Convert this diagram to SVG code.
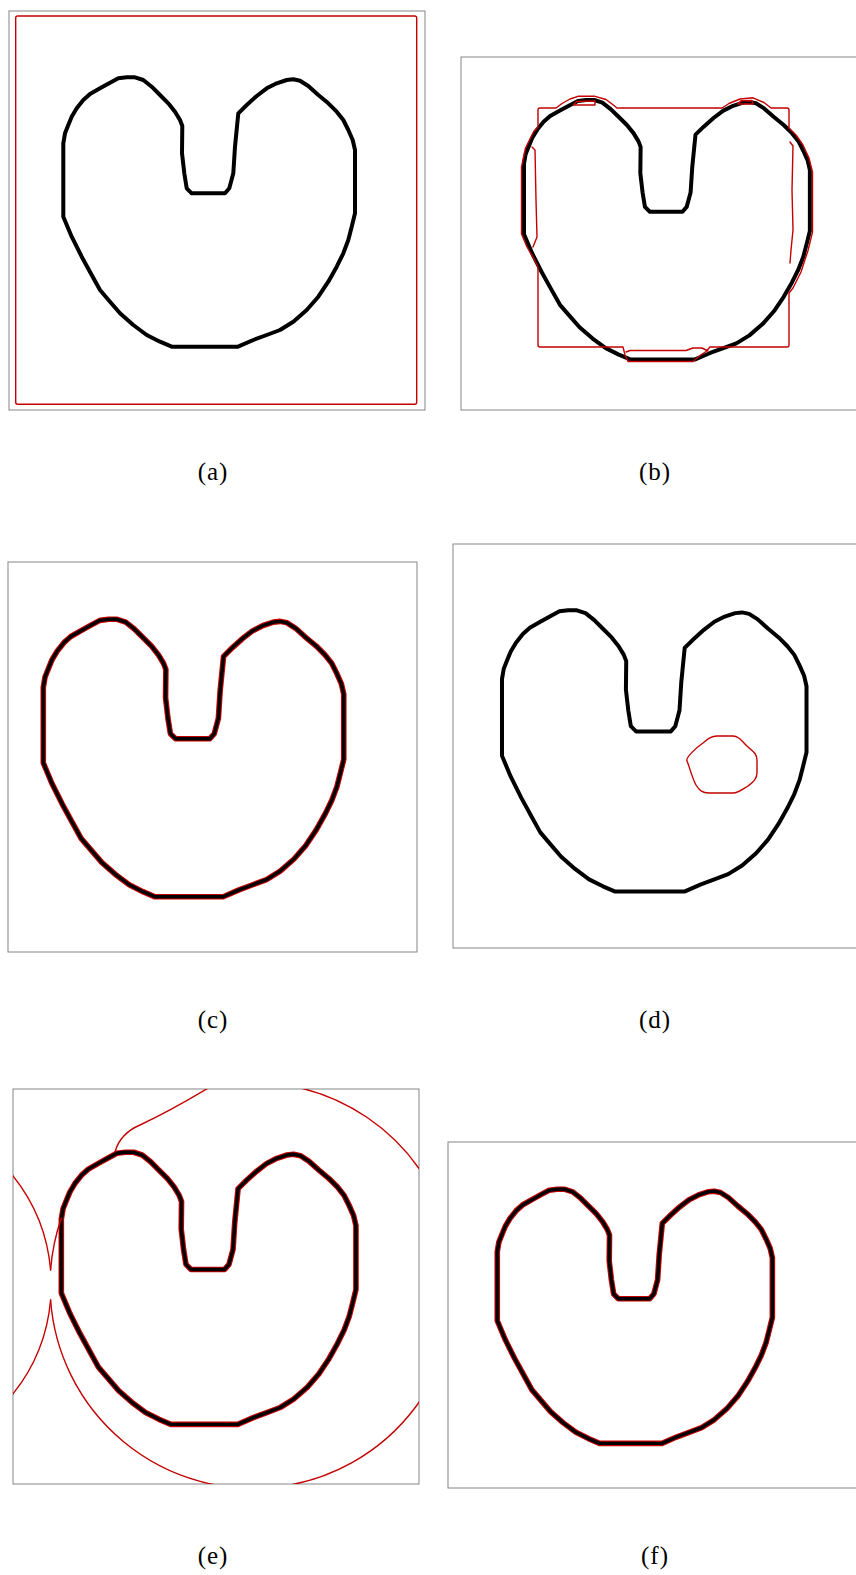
<svg xmlns="http://www.w3.org/2000/svg" xmlns:xlink="http://www.w3.org/1999/xlink" width="856" height="1575" viewBox="0 0 856 1575">
<style>
.frame{fill:none;stroke:#858585;stroke-width:1}
.blk{fill:none;stroke:#000;stroke-width:4;stroke-linejoin:round}
.blkin{fill:none;stroke:#000;stroke-width:3.4;stroke-linejoin:round}
.redw{fill:none;stroke:#c40000;stroke-width:5.6;stroke-linejoin:round}
.red{fill:none;stroke:#c40000;stroke-width:1.4;stroke-linejoin:round;stroke-linecap:round}
.lbl{font-family:"Liberation Serif","DejaVu Serif",serif;font-size:25px;fill:#000;text-anchor:middle;letter-spacing:1px}
</style>
<defs>
<path id="heart" vector-effect="non-scaling-stroke" d="M118.3,78.3 L126.7,77.3 L135,77.3 L143.3,80 L151.7,86.7 L160,95 L168.3,103.3 L175,111.7 L180,120 L182.3,126 L182,153.3 L184.3,173.3 L186.7,188.3 L191.7,193.3 L225,193.3 L229.3,188.3 L233.3,173.3 L235,146.7 L238.3,113.3 L246.7,105 L256.7,96 L266.7,88.3 L276.7,83.3 L286.7,80 L293.3,79.3 L300,80.7 L308.3,86 L318.3,95 L328.3,103.3 L336.7,111.7 L343.3,120 L348.3,130 L352.7,140 L355,150 L355,213.3 L351.7,226.7 L348.3,240 L343.3,253.3 L336.7,266.7 L328.3,281.7 L318.3,296.7 L306.7,310 L293.3,321.7 L280,330 L266.7,335 L253.3,340 L238,346.7 L171.7,346.7 L160,341.7 L146.7,335 L133.3,325 L120,313.3 L110,301.7 L100,290 L91.7,275 L81.7,256.7 L71.7,236.7 L63.3,216.7 L63.3,143.3 L65,133.3 L68.3,125 L71.7,116.7 L76.7,108.3 L83.3,100 L90,94 L100,88.3 L110,82.7 Z"/>
<clipPath id="clipE"><rect x="13" y="1089" width="406" height="395"/></clipPath>
</defs>

<g id="panel-a">
<rect class="frame" x="9" y="11" width="416" height="399"/>
<use href="#heart" class="blk"/>
<rect class="red" x="15.7" y="16" width="401" height="388.3" rx="2"/>
<text class="lbl" x="213" y="480">(a)</text>
</g>

<g id="panel-b">
<rect class="frame" x="461" y="57" width="420" height="353"/>
<use href="#heart" class="blk" transform="translate(461.97,25.56) scale(0.98,0.963)"/>
<path class="red" d="M540,108 L556,108 L562,103.5 L570,99 L578,96.3 L595,96.3 L606,99.5 L614,105.5 L617,108 L722,108 L729,103.5 L740,99 L753,97.8 L764,102.5 L771,108 L787,108 Q789,108 789,110 L789,128 L796,135 L803,145 L809,158 L812.5,172 L812.5,232 L808,250.5 L801,272 L793,288 L789,293 L789,345 Q789,347 787,347 L710,347 L706,351.5 L700,355.5 L693,361.5 L628,361.5 L625,355 L623,347 L540,347 Q538,347 538,345 L538,267 L533.5,258 L527,247 L521.5,234 L521.5,167 L525.5,148 L534,131 L538,127 L538,110 Q538,108 540,108 Z"/>
<path class="red" d="M532,147 L535,150 L536,200 L537,237 L533,247"/>
<path class="red" d="M790,142 L793,146 L792,190 L793,230 L791,250 L790,263"/>
<path class="red" d="M573.3,105 L576.7,101.5 L595,101 L595,105 Z"/>
<path class="red" d="M738,104 L741,100.8 L752,100.5 L753,104 Z"/>
<path class="red" d="M626,352 L630,350.5 L686,350.5 L693,348 L702,348 L708,351"/>
<text class="lbl" x="655" y="480">(b)</text>
</g>

<g id="panel-c">
<rect class="frame" x="8" y="562" width="409" height="390"/>
<use href="#heart" class="redw" transform="translate(-21.9,539.7) scale(1.03)"/>
<use href="#heart" class="blkin" transform="translate(-21.9,539.7) scale(1.03)"/>
<text class="lbl" x="213" y="1028">(c)</text>
</g>

<g id="panel-d">
<rect class="frame" x="453" y="544" width="420" height="404"/>
<use href="#heart" class="blk" transform="translate(435.9,529.6) scale(1.044)"/>
<path class="red" d="M687,761 C685,758 697,747 703,743 C708,739 711,736 717,736 L733,736 C738,736 741,740 747,746 C752,751 757,753 757,760 L757,773 C757,779 753,782 748,786 C743,789 738,793 733,793 L709,793 C702,793 699,790 696,785 C692,778 689,765 687,761 Z"/>
<text class="lbl" x="655" y="1028">(d)</text>
</g>

<g id="panel-e">
<rect class="frame" x="13" y="1089" width="406" height="395"/>
<use href="#heart" class="redw" transform="translate(-2.6,1074.2) scale(1.01)"/>
<use href="#heart" class="blkin" transform="translate(-2.6,1074.2) scale(1.01)"/>
<g clip-path="url(#clipE)">
<path class="red" d="M115,1152 C118,1141 126,1131 140,1125 C155,1118 185,1102 210,1087 A203,203 0 1 1 50.6,1300"/>
<path class="red" d="M50.6,1270 A203,203 0 0 1 61.4,1218"/>
<path class="red" d="M5,1160 L13,1176 A174.4,174.4 0 0 1 50.6,1270"/>
<path class="red" d="M50.6,1300 A174.4,174.4 0 0 1 13,1393.9 L5,1408"/>
</g>
<text class="lbl" x="213" y="1564">(e)</text>
</g>

<g id="panel-f">
<rect class="frame" x="448" y="1142" width="420" height="346"/>
<use href="#heart" class="redw" transform="translate(437.6,1116.4) scale(0.943)"/>
<use href="#heart" class="blkin" transform="translate(437.6,1116.4) scale(0.943)"/>
<text class="lbl" x="655" y="1564">(f)</text>
</g>
</svg>
